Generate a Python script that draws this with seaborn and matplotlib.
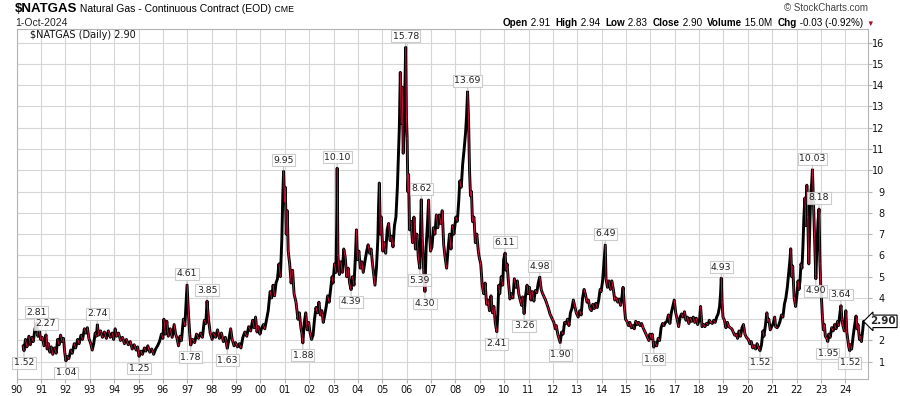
import numpy as np
import pandas as pd
import matplotlib
matplotlib.use('Agg')
import matplotlib.pyplot as plt
import seaborn as sns

# price path: (decimal year, price), alternating swing highs / lows
path_1990s = [
    (1990.26, 1.75), (1990.30, 1.52), (1990.36, 2.05), (1990.42, 1.70), (1990.50, 2.20),
    (1990.56, 1.80), (1990.62, 2.15), (1990.68, 1.95), (1990.75, 2.55), (1990.82, 2.81),
    (1990.87, 2.20), (1990.93, 2.45), (1990.98, 2.05),
    (1991.05, 2.15), (1991.12, 1.75), (1991.20, 2.27), (1991.25, 1.60), (1991.30, 1.85),
    (1991.36, 1.45), (1991.42, 1.70), (1991.48, 1.35), (1991.55, 1.65), (1991.62, 1.40),
    (1991.68, 2.05), (1991.74, 1.80), (1991.80, 2.25), (1991.86, 1.95), (1991.92, 2.10),
    (1991.97, 1.45),
    (1992.02, 1.04), (1992.08, 1.25), (1992.14, 1.15), (1992.22, 1.55), (1992.28, 1.40),
    (1992.36, 1.85), (1992.42, 1.65), (1992.50, 2.05), (1992.56, 1.85), (1992.64, 2.25),
    (1992.70, 2.05), (1992.78, 2.55), (1992.84, 2.35), (1992.90, 2.60), (1992.96, 2.10),
    (1993.04, 1.85), (1993.10, 1.55), (1993.16, 1.85), (1993.22, 2.35), (1993.27, 2.20),
    (1993.31, 2.74), (1993.36, 2.25), (1993.44, 2.45), (1993.52, 2.15), (1993.60, 2.40),
    (1993.68, 2.10), (1993.76, 2.45), (1993.84, 2.15), (1993.92, 2.35), (1993.98, 2.05),
    (1994.04, 2.55), (1994.10, 2.20), (1994.18, 2.35), (1994.26, 2.00), (1994.34, 2.15),
    (1994.42, 1.85), (1994.50, 2.05), (1994.58, 1.80), (1994.66, 1.95), (1994.74, 1.60),
    (1994.82, 1.80), (1994.90, 1.55), (1994.96, 1.70),
    (1995.02, 1.25), (1995.10, 1.50), (1995.16, 1.35), (1995.24, 1.65), (1995.30, 1.50),
    (1995.38, 1.75), (1995.46, 1.45), (1995.54, 1.60), (1995.62, 1.35), (1995.70, 1.60),
    (1995.78, 1.75), (1995.86, 1.95), (1995.94, 2.30),
    (1996.00, 2.10), (1996.04, 3.00), (1996.10, 2.30), (1996.16, 2.90), (1996.22, 2.20),
    (1996.30, 2.55), (1996.38, 2.15), (1996.46, 2.75), (1996.52, 2.30), (1996.58, 2.10),
    (1996.64, 1.75), (1996.70, 2.20), (1996.76, 2.00), (1996.84, 3.00), (1996.90, 2.70),
    (1996.95, 3.80), (1996.99, 4.61),
    (1997.05, 3.20), (1997.10, 2.30), (1997.14, 1.78), (1997.22, 2.05), (1997.30, 1.90),
    (1997.38, 2.30), (1997.46, 2.10), (1997.54, 2.35), (1997.62, 2.15), (1997.70, 2.95),
    (1997.76, 2.80), (1997.81, 3.85), (1997.87, 3.00), (1997.94, 2.35),
    (1998.02, 2.05), (1998.08, 2.35), (1998.16, 2.15), (1998.24, 2.50), (1998.32, 2.10),
    (1998.40, 2.35), (1998.48, 1.95), (1998.56, 2.15), (1998.64, 1.63), (1998.70, 2.00),
    (1998.78, 2.55), (1998.84, 2.05), (1998.92, 1.75), (1998.98, 1.90),
    (1999.06, 1.70), (1999.14, 1.85), (1999.20, 1.65), (1999.28, 2.15), (1999.36, 2.40),
    (1999.44, 2.20), (1999.52, 2.65), (1999.60, 2.45), (1999.68, 2.95), (1999.74, 2.60),
    (1999.80, 3.10), (1999.86, 2.40), (1999.92, 2.65), (1999.98, 2.30),
]

path_2000s = [
    (2000.04, 2.55), (2000.12, 2.75), (2000.18, 2.55), (2000.26, 3.05), (2000.32, 3.40),
    (2000.40, 4.30), (2000.46, 4.00), (2000.52, 4.60), (2000.58, 4.10), (2000.64, 4.70),
    (2000.70, 4.90), (2000.76, 5.60), (2000.82, 5.00), (2000.88, 6.80), (2000.92, 8.90),
    (2000.95, 9.95), (2000.99, 8.50),
    (2001.02, 9.20), (2001.06, 7.00), (2001.10, 8.10), (2001.14, 6.20), (2001.20, 5.60),
    (2001.26, 4.70), (2001.32, 5.30), (2001.38, 4.20), (2001.46, 3.80), (2001.54, 3.00),
    (2001.60, 3.30), (2001.66, 2.60), (2001.70, 2.35), (2001.74, 1.88), (2001.80, 2.85),
    (2001.86, 3.30), (2001.92, 2.50), (2001.98, 2.85),
    (2002.04, 2.35), (2002.10, 2.05), (2002.16, 2.25), (2002.22, 3.00), (2002.28, 3.55),
    (2002.34, 3.30), (2002.40, 3.80), (2002.46, 3.20), (2002.52, 3.40), (2002.58, 2.85),
    (2002.64, 3.20), (2002.70, 3.60), (2002.76, 4.10), (2002.82, 3.80), (2002.88, 4.40),
    (2002.94, 5.00), (2002.98, 4.70),
    (2003.04, 5.60), (2003.10, 5.20), (2003.13, 7.50), (2003.15, 10.10), (2003.18, 6.00),
    (2003.24, 5.10), (2003.30, 5.70), (2003.36, 5.20), (2003.42, 6.30), (2003.48, 5.90),
    (2003.54, 5.00), (2003.60, 5.40), (2003.66, 4.70), (2003.72, 4.39), (2003.78, 5.00),
    (2003.84, 4.60), (2003.90, 6.00), (2003.94, 7.20), (2003.98, 5.80),
    (2004.04, 6.20), (2004.10, 5.40), (2004.16, 5.70), (2004.22, 5.20), (2004.30, 5.80),
    (2004.36, 6.20), (2004.42, 6.50), (2004.48, 6.10), (2004.54, 6.30), (2004.60, 5.60),
    (2004.66, 5.00), (2004.70, 4.60), (2004.76, 5.40), (2004.82, 6.80), (2004.85, 8.40),
    (2004.88, 9.40), (2004.92, 7.00), (2004.96, 7.80),
    (2005.02, 6.20), (2005.08, 6.60), (2005.14, 6.10), (2005.20, 7.20), (2005.26, 7.50),
    (2005.32, 6.70), (2005.38, 6.90), (2005.44, 6.40), (2005.50, 7.40), (2005.56, 7.80),
    (2005.62, 9.20), (2005.66, 10.60), (2005.70, 12.00), (2005.74, 14.60), (2005.78, 12.20),
    (2005.82, 13.90), (2005.86, 10.80), (2005.90, 12.20), (2005.93, 14.00), (2005.96, 15.78),
    (2005.99, 12.50),
    (2006.02, 11.50), (2006.05, 9.00), (2006.08, 9.80), (2006.12, 7.20), (2006.18, 7.60),
    (2006.24, 6.60), (2006.30, 7.80), (2006.36, 6.30), (2006.42, 7.00), (2006.48, 5.90),
    (2006.54, 5.39), (2006.57, 7.20), (2006.60, 8.62), (2006.64, 6.80), (2006.70, 5.30),
    (2006.75, 4.30), (2006.80, 6.40), (2006.86, 7.60), (2006.90, 8.60), (2006.94, 7.00),
    (2006.98, 6.20),
    (2007.04, 6.40), (2007.10, 7.30), (2007.16, 7.00), (2007.22, 7.90), (2007.28, 7.30),
    (2007.34, 7.90), (2007.40, 7.50), (2007.46, 8.10), (2007.52, 6.50), (2007.58, 5.90),
    (2007.64, 5.40), (2007.70, 6.30), (2007.76, 7.00), (2007.82, 6.30), (2007.88, 7.40),
    (2007.94, 7.00),
    (2008.02, 7.80), (2008.08, 7.60), (2008.14, 8.60), (2008.18, 9.50), (2008.24, 9.20),
    (2008.30, 10.30), (2008.36, 11.00), (2008.42, 11.80), (2008.46, 12.60), (2008.50, 13.69),
    (2008.54, 12.40), (2008.58, 10.00), (2008.62, 8.80), (2008.66, 9.00), (2008.70, 7.60),
    (2008.76, 7.80), (2008.82, 6.60), (2008.88, 7.00), (2008.94, 6.20), (2008.98, 5.90),
    (2009.04, 5.60), (2009.10, 4.60), (2009.16, 4.20), (2009.22, 4.70), (2009.28, 3.70),
    (2009.34, 3.90), (2009.40, 3.40), (2009.46, 4.10), (2009.52, 3.30), (2009.58, 3.60),
    (2009.64, 2.80), (2009.70, 2.41), (2009.74, 3.20), (2009.78, 4.60), (2009.82, 4.20),
    (2009.88, 5.00), (2009.94, 4.60), (2009.98, 5.80),
]

path_2010s = [
    (2010.04, 6.11), (2010.08, 5.30), (2010.12, 5.60), (2010.18, 4.70), (2010.24, 3.95),
    (2010.30, 4.20), (2010.36, 4.00), (2010.42, 4.90), (2010.48, 4.50), (2010.54, 4.80),
    (2010.60, 4.20), (2010.66, 3.90), (2010.72, 3.65), (2010.76, 4.05), (2010.82, 3.26),
    (2010.88, 4.10), (2010.94, 4.60), (2010.98, 4.20),
    (2011.04, 4.50), (2011.10, 3.90), (2011.16, 4.30), (2011.22, 3.85), (2011.28, 4.35),
    (2011.34, 4.25), (2011.40, 4.70), (2011.46, 4.98), (2011.52, 4.40), (2011.58, 4.20),
    (2011.64, 4.05), (2011.70, 3.90), (2011.76, 3.70), (2011.82, 3.50), (2011.88, 3.25),
    (2011.94, 3.10), (2011.98, 3.00),
    (2012.04, 2.85), (2012.10, 2.55), (2012.14, 2.70), (2012.20, 2.30), (2012.26, 2.05),
    (2012.30, 1.90), (2012.36, 2.40), (2012.42, 2.30), (2012.48, 2.85), (2012.54, 2.80),
    (2012.60, 3.00), (2012.66, 2.70), (2012.72, 3.30), (2012.78, 3.50), (2012.84, 3.90),
    (2012.90, 3.60), (2012.96, 3.30),
    (2013.04, 3.10), (2013.10, 3.40), (2013.16, 3.20), (2013.22, 4.00), (2013.28, 4.40),
    (2013.34, 4.15), (2013.40, 3.80), (2013.46, 3.90), (2013.52, 3.50), (2013.58, 3.40),
    (2013.64, 3.70), (2013.70, 3.50), (2013.76, 3.75), (2013.82, 3.55), (2013.88, 3.90),
    (2013.94, 4.40), (2013.98, 4.30),
    (2014.04, 4.80), (2014.08, 5.40), (2014.12, 6.00), (2014.15, 6.49), (2014.18, 4.90),
    (2014.24, 4.50), (2014.30, 4.80), (2014.36, 4.40), (2014.42, 4.80), (2014.48, 4.40),
    (2014.54, 3.90), (2014.60, 4.00), (2014.66, 3.80), (2014.72, 3.95), (2014.78, 3.65),
    (2014.84, 4.10), (2014.88, 4.50), (2014.94, 3.50), (2014.98, 3.00),
    (2015.04, 2.90), (2015.10, 2.70), (2015.16, 2.85), (2015.22, 2.60), (2015.28, 2.70),
    (2015.34, 2.55), (2015.40, 2.90), (2015.46, 2.75), (2015.52, 2.85), (2015.58, 2.70),
    (2015.64, 2.80), (2015.70, 2.60), (2015.76, 2.45), (2015.82, 2.30), (2015.88, 2.15),
    (2015.94, 2.00), (2015.98, 2.30),
    (2016.04, 2.10), (2016.08, 2.30), (2016.14, 1.68), (2016.20, 1.90), (2016.26, 1.75),
    (2016.32, 2.10), (2016.38, 2.00), (2016.44, 2.60), (2016.50, 2.80), (2016.56, 2.70),
    (2016.62, 2.85), (2016.68, 2.90), (2016.74, 3.20), (2016.80, 2.80), (2016.86, 3.30),
    (2016.92, 3.60), (2016.98, 3.90),
    (2017.04, 3.30), (2017.10, 3.00), (2017.16, 2.65), (2017.22, 3.10), (2017.28, 3.25),
    (2017.34, 3.10), (2017.40, 3.35), (2017.46, 2.95), (2017.52, 3.10), (2017.58, 2.80),
    (2017.64, 3.05), (2017.70, 2.90), (2017.76, 3.10), (2017.82, 2.85), (2017.88, 3.05),
    (2017.94, 2.75),
    (2018.02, 3.00), (2018.06, 3.60), (2018.12, 2.65), (2018.18, 2.75), (2018.24, 2.65),
    (2018.30, 2.80), (2018.36, 2.75), (2018.42, 2.95), (2018.48, 2.85), (2018.54, 2.80),
    (2018.60, 2.95), (2018.66, 2.85), (2018.72, 3.10), (2018.78, 3.25), (2018.84, 3.60),
    (2018.88, 4.20), (2018.91, 4.93), (2018.94, 3.80), (2018.98, 3.10),
    (2019.04, 2.95), (2019.10, 2.60), (2019.16, 2.85), (2019.22, 2.65), (2019.28, 2.60),
    (2019.34, 2.55), (2019.40, 2.40), (2019.46, 2.25), (2019.52, 2.30), (2019.58, 2.10),
    (2019.64, 2.45), (2019.70, 2.20), (2019.76, 2.60), (2019.82, 2.75), (2019.88, 2.30),
    (2019.94, 2.15),
]

path_2020s = [
    (2020.02, 2.05), (2020.08, 1.85), (2020.14, 1.95), (2020.20, 1.65), (2020.26, 1.75),
    (2020.32, 1.60), (2020.38, 1.85), (2020.44, 1.65), (2020.50, 1.52), (2020.56, 1.80),
    (2020.62, 2.45), (2020.66, 2.20), (2020.72, 2.70), (2020.78, 3.30), (2020.82, 2.90),
    (2020.86, 3.00), (2020.92, 2.50), (2020.98, 2.65),
    (2021.04, 2.80), (2021.10, 3.10), (2021.14, 2.65), (2021.20, 2.60), (2021.26, 2.70),
    (2021.32, 2.90), (2021.38, 3.20), (2021.44, 3.10), (2021.50, 3.70), (2021.56, 4.00),
    (2021.62, 4.50), (2021.66, 5.00), (2021.72, 5.70), (2021.76, 6.31), (2021.80, 5.00),
    (2021.84, 5.50), (2021.90, 4.00), (2021.96, 3.60),
    (2022.02, 4.20), (2022.06, 4.80), (2022.10, 4.40), (2022.14, 4.80), (2022.18, 5.60),
    (2022.22, 5.40), (2022.26, 6.40), (2022.30, 7.80), (2022.34, 8.70), (2022.38, 7.40),
    (2022.42, 9.30), (2022.46, 7.80), (2022.50, 5.60), (2022.54, 7.20), (2022.58, 8.90),
    (2022.62, 9.40), (2022.65, 10.03), (2022.70, 8.20), (2022.74, 6.80), (2022.79, 4.90),
    (2022.84, 6.60), (2022.88, 7.60), (2022.92, 8.18), (2022.96, 5.60), (2022.99, 4.60),
    (2023.02, 4.00), (2023.06, 3.10), (2023.10, 2.50), (2023.14, 2.75), (2023.18, 2.20),
    (2023.24, 2.10), (2023.28, 1.95), (2023.32, 2.30), (2023.38, 2.15), (2023.44, 2.60),
    (2023.50, 2.45), (2023.56, 2.75), (2023.62, 2.55), (2023.68, 2.90), (2023.72, 2.70),
    (2023.78, 3.30), (2023.82, 3.64), (2023.86, 3.00), (2023.90, 2.70), (2023.96, 2.45),
    (2024.02, 3.40), (2024.06, 2.40), (2024.10, 2.05), (2024.14, 1.70), (2024.18, 1.52),
    (2024.22, 1.80), (2024.26, 1.60), (2024.32, 2.20), (2024.38, 2.70), (2024.44, 3.15),
    (2024.48, 2.55), (2024.52, 2.75), (2024.58, 2.05), (2024.62, 2.20), (2024.66, 1.95),
    (2024.70, 2.35), (2024.75, 2.90),
]

# annotated swing highs / lows
label_dates = [1990.82, 1991.20, 1993.31, 1996.99, 1997.81, 2000.95, 2003.15, 2005.96,
               2006.60, 2008.50, 2010.04, 2011.46, 2014.15, 2018.91, 2022.65, 2022.92,
               2023.82,
               1990.30, 1992.02, 1995.02, 1997.14, 1998.64, 2001.74, 2003.72, 2006.54,
               2006.75, 2009.70, 2010.82, 2012.30, 2016.14, 2020.50, 2022.79, 2023.28,
               2024.18]
label_values = [2.81, 2.27, 2.74, 4.61, 3.85, 9.95, 10.10, 15.78, 8.62, 13.69, 6.11, 4.98,
                6.49, 4.93, 10.03, 8.18, 3.64,
                1.52, 1.04, 1.25, 1.78, 1.63, 1.88, 4.39, 5.39, 4.30, 2.41, 3.26, 1.90,
                1.68, 1.52, 4.90, 1.95, 1.52]
label_kinds = ['hi'] * 17 + ['lo'] * 17

years = list(range(1990, 2025))
y_ticks = list(range(1, 17))

last_open, last_high, last_low, last_close = 2.91, 2.94, 2.83, 2.90
last_volume = '15.0M'
last_chg = '-0.03 (-0.92%)'

sns.set_style('white')
plt.rcParams['font.family'] = ['DejaVu Sans']
HEAD = ['Liberation Sans', 'DejaVu Sans']
GRID = '#d6d6d6'
FRAME = '#b4b4b4'

fig = plt.figure(figsize=(9, 3.96), dpi=100)
ax = fig.add_axes([16.7 / 900, 1 - 379 / 396, (868 - 16.7) / 900, (379 - 29) / 396])

df = pd.DataFrame(path_1990s + path_2000s + path_2010s + path_2020s, columns=['date', 'price'])
sns.lineplot(x=df['date'], y=df['price'], color='black', lw=2.1, sort=False,
             estimator=None, ax=ax, zorder=3)

# red on the falling stretches, like down bars
d = df['date'].to_numpy()
p = df['price'].to_numpy()
fall = np.where(np.diff(p) < 0)[0]
nan = np.full(len(fall), np.nan)
rx = np.column_stack([d[fall], d[fall + 1], nan]).ravel()
ry = np.column_stack([p[fall], p[fall + 1], nan]).ravel()
ax.plot(rx, ry, color='#d4103c', lw=0.7, zorder=4)

ax.set_xlim(1990.0, 2024.93)
ax.set_ylim(0.19, 16.64)
ax.set_xticks(years)
ax.set_xticklabels([f'{y % 100:02d}' for y in years])
ax.set_yticks(y_ticks)
# the "3" label sits under the last-price tag
ax.set_yticklabels(['' if t == 3 else str(t) for t in y_ticks])
ax.yaxis.tick_right()
ax.grid(True, color=GRID, lw=0.8)
ax.set_axisbelow(True)
ax.tick_params(axis='x', bottom=True, length=3, color=FRAME, labelsize=7, pad=1.5,
               labelcolor='#111111')
ax.tick_params(axis='y', right=True, left=False, length=3, color=FRAME, labelsize=7,
               pad=9, labelcolor='#111111')
for t in ax.get_yticklabels():
    t.set_ha('right')
ax.set_xlabel('')
ax.set_ylabel('')
for s in ax.spines.values():
    s.set_color(FRAME)
    s.set_linewidth(0.8)

for dt, v, k in zip(label_dates, label_values, label_kinds):
    off = 11 if k == 'hi' else -12
    ax.annotate(f'{v:.2f}', xy=(dt, v), xytext=(0, off), textcoords='offset pixels',
                ha='center', va='center', fontsize=6.7, color='#222222',
                bbox=dict(boxstyle='square,pad=0.15', fc='white', ec='#c4c4c4', lw=0.8, alpha=0.85),
                arrowprops=dict(arrowstyle='-', color='#c4c4c4', lw=0.8, shrinkA=0, shrinkB=1),
                zorder=6)

# last price tag on the price axis
ax.annotate(f'{last_close:.2f}', xy=(1.0, last_close), xycoords=('axes fraction', 'data'),
            xytext=(15, 0), textcoords='offset pixels', ha='center', va='center',
            fontsize=7.5, fontweight='bold', annotation_clip=False,
            bbox=dict(boxstyle='larrow,pad=0.12', fc='white', ec='black', lw=0.8), zorder=7)

# legend line inside the chart
fig.text(30 / 900, 1 - 38 / 396, f'$NATGAS (Daily) {last_close:.2f}', fontsize=7,
         va='baseline', color='#111111')


def chain(parts, x, y):
    prev = None
    for s, size, weight, color in parts:
        if prev is None:
            prev = fig.text(x, y, s, fontsize=size, fontweight=weight, color=color,
                            family=HEAD, va='baseline')
        else:
            prev = ax.annotate(s, xy=(1, y), xycoords=(prev, 'figure fraction'),
                               fontsize=size, fontweight=weight, color=color,
                               family=HEAD, va='baseline', ha='left', annotation_clip=False)
    return prev


chain([('$NATGAS', 9.5, 'bold', 'black'),
       (' Natural Gas - Continuous Contract (EOD)', 7.5, 'normal', 'black'),
       (' CME', 6.3, 'normal', 'black')], 15 / 900, 1 - 12.5 / 396)
fig.text(15 / 900, 1 - 26 / 396, '1-Oct-2024', fontsize=7.5, family=HEAD, va='baseline')
fig.text(868 / 900, 1 - 11 / 396, '© StockCharts.com', fontsize=7, family=HEAD,
         color='#444444', ha='right', va='baseline')
hs = 7.1
chain([('Open', hs, 'bold', 'black'), (f' {last_open:.2f}  ', hs, 'normal', 'black'),
       ('High', hs, 'bold', 'black'), (f' {last_high:.2f}  ', hs, 'normal', 'black'),
       ('Low', hs, 'bold', 'black'), (f' {last_low:.2f}  ', hs, 'normal', 'black'),
       ('Close', hs, 'bold', 'black'), (f' {last_close:.2f}  ', hs, 'normal', 'black'),
       ('Volume', hs, 'bold', 'black'), (f' {last_volume}  ', hs, 'normal', 'black'),
       ('Chg', hs, 'bold', 'black'), (f' {last_chg} ', hs, 'normal', 'black'),
       ('▼', 5.5, 'normal', '#a0102a')], 503 / 900, 1 - 26 / 396)

fig.savefig('out.png', dpi=100)
